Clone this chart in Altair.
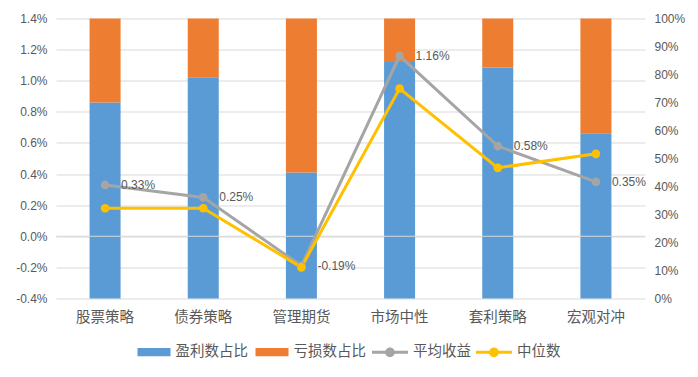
import altair as alt
import pandas as pd

categories = ["股票策略", "债券策略", "管理期货", "市场中性", "套利策略", "宏观对冲"]
bar_series = ["盈利数占比", "亏损数占比"]
line_series = ["平均收益", "中位数"]

profit_ratio = [0.70, 0.79, 0.45, 0.845, 0.825, 0.59]
loss_ratio = [0.30, 0.21, 0.55, 0.155, 0.175, 0.41]
avg_return = [0.0033, 0.0025, -0.0019, 0.0116, 0.0058, 0.0035]
median_return = [0.0018, 0.0018, -0.0020, 0.0095, 0.0044, 0.0053]
avg_labels = ["0.33%", "0.25%", "-0.19%", "1.16%", "0.58%", "0.35%"]

left_ticks = [-0.004, -0.002, 0.0, 0.002, 0.004, 0.006, 0.008, 0.010, 0.012, 0.014]
right_ticks = [0.0, 0.1, 0.2, 0.3, 0.4, 0.5, 0.6, 0.7, 0.8, 0.9, 1.0]

CJK = "Noto Sans CJK SC"
NUM = "Liberation Sans"
TXT = "#595959"
GRID = "#D9D9D9"
BAR_COLORS = ["#5B9BD5", "#ED7D31"]
LINE_COLORS = ["#A5A5A5", "#FFC000"]

bar_df = pd.DataFrame({
    "cat": categories * 2,
    "series": [bar_series[0]] * 6 + [bar_series[1]] * 6,
    "value": profit_ratio + loss_ratio,
    "ord": [0] * 6 + [1] * 6,
})
line_names = [line_series[0]] * 6 + [line_series[1]] * 6
line_df = pd.DataFrame({
    "cat": categories * 2,
    "series": line_names,
    "line_key": line_names,
    "value": avg_return + median_return,
})
text_df = pd.DataFrame({"cat": categories, "value": avg_return, "label": avg_labels})
zero_df = pd.DataFrame({"value": [0.0]})

x_enc = alt.X(
    "cat:N", sort=categories,
    scale=alt.Scale(paddingInner=0.684, paddingOuter=0.342),
    axis=alt.Axis(title=None, labelAngle=0, ticks=False, domain=False,
                  labelFont=CJK, labelFontSize=14.5, labelColor=TXT, labelPadding=12),
)

y_left = alt.Y(
    "value:Q",
    scale=alt.Scale(domain=[-0.004, 0.014], nice=False, zero=False),
    axis=alt.Axis(orient="left", title=None, values=left_ticks,
                  labelExpr="replace(format(datum.value, '.1%'), '\u2212', '-')",
                  grid=True, gridColor=GRID, gridWidth=1, ticks=False, domain=False,
                  labelFont=NUM, labelFontSize=12, labelColor=TXT, labelPadding=9),
)

bars = alt.Chart(bar_df).mark_bar().encode(
    x=x_enc,
    y=alt.Y("value:Q", stack="zero",
            scale=alt.Scale(domain=[0, 1], nice=False),
            axis=alt.Axis(orient="right", title=None, values=right_ticks, format=".0%",
                          grid=False, ticks=False, domain=False,
                          labelFont=NUM, labelFontSize=12, labelColor=TXT, labelPadding=9)),
    color=alt.Color("series:N",
                    scale=alt.Scale(domain=bar_series, range=BAR_COLORS),
                    legend=alt.Legend(orient="none", legendX=81.5, legendY=317,
                                      direction="horizontal", title=None,
                                      symbolType="M-1,-0.25H1V0.25H-1Z", symbolSize=1089,
                                      symbolStrokeWidth=0, labelFont=CJK, labelFontSize=14.5,
                                      labelColor=TXT, labelOffset=5, columnPadding=7, padding=0)),
    order=alt.Order("ord:Q", sort="ascending"),
)

zero_rule = alt.Chart(zero_df).mark_rule(color=GRID, strokeWidth=1).encode(y=y_left)

# stroke scale uses reversed domain order so its (hidden) legend is not merged with the fill legend
lines = alt.Chart(line_df).mark_line(strokeWidth=3).encode(
    x=x_enc, y=y_left,
    stroke=alt.Stroke("line_key:N",
                      scale=alt.Scale(domain=line_series[::-1], range=LINE_COLORS[::-1]),
                      legend=None),
)

points = alt.Chart(line_df).mark_point(filled=True, size=75, opacity=1, strokeWidth=0).encode(
    x=x_enc, y=y_left,
    fill=alt.Fill("series:N",
                  scale=alt.Scale(domain=line_series, range=LINE_COLORS),
                  legend=alt.Legend(orient="none", legendX=316, legendY=315.5,
                                    direction="horizontal", title=None,
                                    symbolType="M-1,-0.09H1V0.09H-1Z M-0.27,0A0.27,0.27 0 1,1 0.27,0A0.27,0.27 0 1,1 -0.27,0Z",
                                    symbolSize=1296, symbolStrokeWidth=0,
                                    labelFont=CJK, labelFontSize=14.5, labelColor=TXT,
                                    labelOffset=5, columnPadding=5, padding=0)),
)

labels = alt.Chart(text_df).mark_text(
    align="left", baseline="middle", dx=16, font=NUM, fontSize=12, color=TXT
).encode(x=x_enc, y=y_left, text="label:N")

left_group = alt.layer(zero_rule, lines, points, labels)

chart = alt.layer(bars, left_group).resolve_scale(y="independent").properties(
    width=589, height=280,
    padding={"left": 48, "top": 10.5, "right": 45, "bottom": 70.5},
    autosize=alt.AutoSizeParams(type="none"),
    background="white",
).configure_view(stroke=None)

chart.save("out.html", embed_options={"renderer": "svg", "actions": False})
